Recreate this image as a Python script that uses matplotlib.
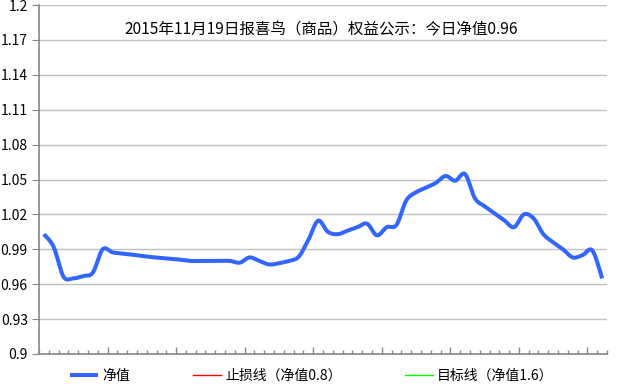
import numpy as np
import matplotlib
matplotlib.use("Agg")
import matplotlib.pyplot as plt
from matplotlib.ticker import FixedLocator, NullFormatter

plt.rcParams['font.family'] = ['Noto Sans CJK SC', 'DejaVu Sans']

TITLE = "2015年11月19日报喜鸟（商品）权益公示：今日净值0.96"

# 净值，每个点一格
nav = [1.003, 0.992, 0.9665, 0.965, 0.967, 0.970, 0.990, 0.9874, 0.9864, 0.9855,
       0.9843, 0.9833, 0.9825, 0.9818, 0.981, 0.980, 0.980, 0.980, 0.980, 0.980,
       0.9785, 0.983, 0.980, 0.977, 0.978, 0.980, 0.9835, 0.998, 1.0146, 1.005,
       1.003, 1.006, 1.009, 1.012, 1.002, 1.009, 1.011, 1.032, 1.039, 1.043,
       1.047, 1.053, 1.049, 1.0547, 1.034, 1.027, 1.021, 1.015, 1.009, 1.020,
       1.0166, 1.003, 0.996, 0.990, 0.983, 0.985, 0.989, 0.965]
stop_line = [0.8] * len(nav)
target_line = [1.6] * len(nav)

y_ticks = [0.9, 0.93, 0.96, 0.99, 1.02, 1.05, 1.08, 1.11, 1.14, 1.17, 1.2]
y_labels = ["0.9", "0.93", "0.96", "0.99", "1.02", "1.05", "1.08", "1.11", "1.14", "1.17", "1.2"]


def smooth(y, n=20):
    # courbe lissée style Excel (bezier catmull-rom)
    x = np.arange(len(y), dtype=float)
    y = np.asarray(y, dtype=float)
    xs, ys = [], []
    for i in range(len(y) - 1):
        i0, i3 = max(i - 1, 0), min(i + 2, len(y) - 1)
        p0 = np.array([x[i0], y[i0]]); p1 = np.array([x[i], y[i]])
        p2 = np.array([x[i + 1], y[i + 1]]); p3 = np.array([x[i3], y[i3]])
        c1 = p1 + (p2 - p0) / 6
        c2 = p2 - (p3 - p1) / 6
        t = np.linspace(0, 1, n, endpoint=False)[:, None]
        pts = ((1 - t) ** 3) * p1 + 3 * ((1 - t) ** 2) * t * c1 + 3 * (1 - t) * t ** 2 * c2 + t ** 3 * p2
        xs.append(pts[:, 0]); ys.append(pts[:, 1])
    xs.append([x[-1]]); ys.append([y[-1]])
    return np.concatenate(xs), np.concatenate(ys)


fig = plt.figure(figsize=(6.39, 3.89), dpi=100)
ax = fig.add_axes([0.061, 0.090, 0.889, 0.897])

sx, sy = smooth(nav)
ax.plot(sx, sy, color="#3366ff", lw=2.9, solid_capstyle="butt", label="净值", zorder=3)
ax.plot(np.arange(len(nav)), stop_line, color="#ff0000", lw=1.0, label="止损线（净值0.8）")
ax.plot(np.arange(len(nav)), target_line, color="#00ff00", lw=1.0, label="目标线（净值1.6）")

ax.set_xlim(-0.5, len(nav) - 0.5)
ax.set_ylim(0.9, 1.2)
ax.set_yticks(y_ticks)
ax.set_yticklabels(y_labels, fontsize=10)
ax.grid(axis="y", color="#c0c0c0", lw=1.0)
ax.set_axisbelow(True)

bounds = np.arange(len(nav) + 1) - 0.5
ax.xaxis.set_minor_locator(FixedLocator(bounds))
ax.xaxis.set_major_locator(FixedLocator(bounds[7::7]))
ax.xaxis.set_major_formatter(NullFormatter())
ax.tick_params(axis="x", which="major", direction="in", length=5, color="#868686", width=1)
ax.tick_params(axis="x", which="minor", direction="in", length=3, color="#868686", width=1)
ax.tick_params(axis="y", direction="out", length=5, color="#868686", pad=3)

for s in ["top", "right"]:
    ax.spines[s].set_visible(False)
for s in ["left", "bottom"]:
    ax.spines[s].set_color("#868686")
    ax.spines[s].set_linewidth(1.2)

ax.text(0.496, 0.928, TITLE, transform=ax.transAxes, ha="center", va="center", fontsize=11.2)

fig.legend(loc="center", bbox_to_anchor=(0.488, 0.033), ncol=3, frameon=False,
           fontsize=10, handlelength=2.0, handletextpad=0.3, columnspacing=4.55)

fig.savefig("out.png", dpi=100)
